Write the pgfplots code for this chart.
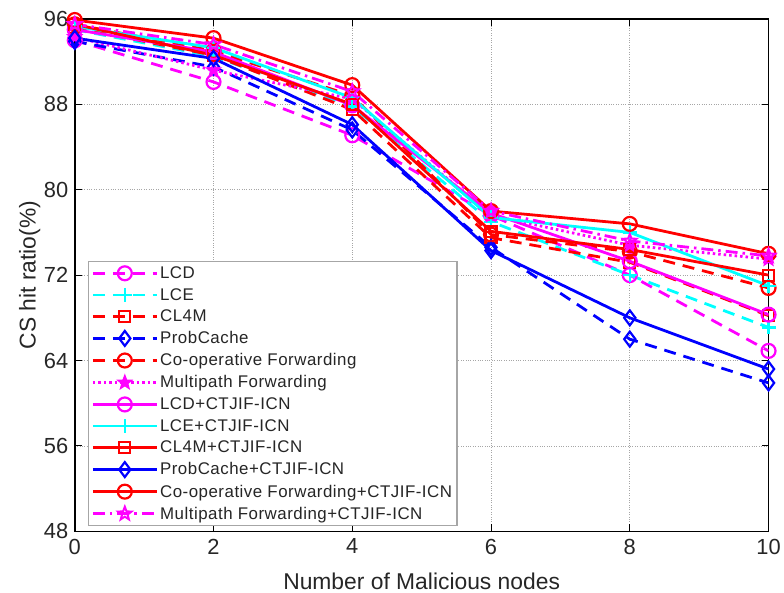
\documentclass[border=0pt]{standalone}
\usepackage{fontspec}
\setmainfont{Liberation Sans}
\newfontfamily\legfont[LetterSpace=3]{Liberation Sans}
\usepackage{pgfplots}
\pgfplotsset{compat=1.18}

\definecolor{mg}{rgb}{1,0,1}
\definecolor{cy}{rgb}{0,1,1}
\definecolor{rd}{rgb}{1,0,0}
\definecolor{bl}{rgb}{0,0,1}

% five-pointed star marks: open and filled
\pgfdeclareplotmark{pstar}{%
  \pgfpathmoveto{\pgfpointpolar{90}{\pgfplotmarksize}}%
  \pgfpathlineto{\pgfpointpolar{126}{0.42\pgfplotmarksize}}%
  \pgfpathlineto{\pgfpointpolar{162}{\pgfplotmarksize}}%
  \pgfpathlineto{\pgfpointpolar{198}{0.42\pgfplotmarksize}}%
  \pgfpathlineto{\pgfpointpolar{234}{\pgfplotmarksize}}%
  \pgfpathlineto{\pgfpointpolar{270}{0.42\pgfplotmarksize}}%
  \pgfpathlineto{\pgfpointpolar{306}{\pgfplotmarksize}}%
  \pgfpathlineto{\pgfpointpolar{342}{0.42\pgfplotmarksize}}%
  \pgfpathlineto{\pgfpointpolar{18}{\pgfplotmarksize}}%
  \pgfpathlineto{\pgfpointpolar{54}{0.42\pgfplotmarksize}}%
  \pgfpathclose\pgfusepathqstroke}
\pgfdeclareplotmark{pstar*}{%
  \pgfpathmoveto{\pgfpointpolar{90}{\pgfplotmarksize}}%
  \pgfpathlineto{\pgfpointpolar{126}{0.42\pgfplotmarksize}}%
  \pgfpathlineto{\pgfpointpolar{162}{\pgfplotmarksize}}%
  \pgfpathlineto{\pgfpointpolar{198}{0.42\pgfplotmarksize}}%
  \pgfpathlineto{\pgfpointpolar{234}{\pgfplotmarksize}}%
  \pgfpathlineto{\pgfpointpolar{270}{0.42\pgfplotmarksize}}%
  \pgfpathlineto{\pgfpointpolar{306}{\pgfplotmarksize}}%
  \pgfpathlineto{\pgfpointpolar{342}{0.42\pgfplotmarksize}}%
  \pgfpathlineto{\pgfpointpolar{18}{\pgfplotmarksize}}%
  \pgfpathlineto{\pgfpointpolar{54}{0.42\pgfplotmarksize}}%
  \pgfpathclose\pgfusepathqfillstroke}

\tikzset{
  dsh/.style={dash pattern=on 12bp off 8bp},
  dtt/.style={dash pattern=on 2.5bp off 3bp},
  dsd/.style={dash pattern=on 12bp off 5bp on 2.5bp off 5bp},
}

\begin{document}
\begin{tikzpicture}
\begin{axis}[
  scale only axis, width=696bp, height=514bp,
  xmin=0, xmax=10, ymin=48, ymax=96,
  xtick={0,2,...,10}, ytick={48,56,...,96},
  tick align=inside, major tick length=7bp,
  grid=major, grid style={dotted, gray!70, line width=0.8bp},
  axis line style={line width=1.5bp, black},
  tick style={black, line width=1bp},
  /pgf/number format/assume math mode=true,
  ticklabel style={font=\fontsize{22}{24}\selectfont, text=black!85},
  xticklabel style={yshift=-4bp},
  yticklabel style={xshift=-3bp},
  xlabel={Number of Malicious nodes},
  ylabel={CS hit ratio(\%)},
  label style={font=\fontsize{23}{27}\selectfont, text=black!85},
  xlabel style={at={(axis description cs:0.5,-0.097)}, anchor=center},
  ylabel style={at={(axis description cs:-0.065,0.5)}, anchor=center},
  every axis plot/.append style={line width=2.8bp},
  legend image code/.code={\draw[mark repeat=2,mark phase=2] plot coordinates {(0bp,0bp) (32bp,0bp) (64bp,0bp)};},
  legend style={at={(rel axis cs:0.019,0.01)}, anchor=south west,
    draw=gray!70, line width=1.2bp, fill=white,
    font=\legfont\fontsize{17}{19}\selectfont, text=black!85,
    cells={anchor=west}, row sep=4.4bp, inner sep=3bp},
]
% baseline schemes (broken lines)
\addplot[mg, dsh, mark=o, mark size=7bp, mark options={solid, line width=2.2bp}]
  coordinates {(0,94.0) (2,90.1) (4,85.1) (6,77.6) (8,72.0) (10,64.9)};
\addlegendentry{LCD}
\addplot[cy, dsh, mark=+, mark size=7bp, mark options={solid, line width=2.2bp}]
  coordinates {(0,95.0) (2,92.5) (4,87.8) (6,77.0) (8,72.0) (10,67.1)};
\addlegendentry{LCE}
\addplot[rd, dsh, mark=square, mark size=5.5bp, mark options={solid, line width=2.2bp}]
  coordinates {(0,95.2) (2,92.6) (4,87.5) (6,75.5) (8,73.2) (10,68.2)};
\addlegendentry{CL4M}
\addplot[bl, dsh, mark=diamond, mark size=7.5bp, mark options={solid, line width=2.2bp}]
  coordinates {(0,93.9) (2,91.5) (4,85.6) (6,74.6) (8,66.0) (10,61.9)};
\addlegendentry{ProbCache}
\addplot[rd, dsh, mark=o, mark size=7bp, mark options={solid, line width=2.2bp}]
  coordinates {(0,95.5) (2,93.0) (4,88.8) (6,75.8) (8,74.2) (10,70.8)};
\addlegendentry{Co-operative Forwarding}
\addplot[mg, dtt, mark=pstar*, mark size=7bp, mark options={solid, line width=1.5bp, fill=mg}]
  coordinates {(0,94.3) (2,91.2) (4,88.5) (6,77.6) (8,74.8) (10,73.5)};
\addlegendentry{Multipath Forwarding}
% schemes combined with CTJIF-ICN (solid / dash-dot)
\addplot[mg, solid, mark=o, mark size=7bp, mark options={solid, line width=2.2bp}]
  coordinates {(0,95.0) (2,92.9) (4,87.9) (6,77.8) (8,73.3) (10,68.3)};
\addlegendentry{LCD+CTJIF-ICN}
\addplot[cy, solid, mark=+, mark size=7bp, mark options={solid, line width=2.2bp}]
  coordinates {(0,95.3) (2,93.3) (4,88.6) (6,77.4) (8,76.0) (10,71.0)};
\addlegendentry{LCE+CTJIF-ICN}
\addplot[rd, solid, mark=square, mark size=5.5bp, mark options={solid, line width=2.2bp}]
  coordinates {(0,95.5) (2,92.6) (4,88.0) (6,76.1) (8,74.4) (10,72.0)};
\addlegendentry{CL4M+CTJIF-ICN}
\addplot[bl, solid, mark=diamond, mark size=7.5bp, mark options={solid, line width=2.2bp}]
  coordinates {(0,94.2) (2,92.3) (4,86.1) (6,74.3) (8,68.0) (10,63.2)};
\addlegendentry{ProbCache+CTJIF-ICN}
\addplot[rd, solid, mark=o, mark size=7bp, mark options={solid, line width=2.2bp}]
  coordinates {(0,95.9) (2,94.2) (4,89.8) (6,78.0) (8,76.8) (10,74.0)};
\addlegendentry{Co-operative Forwarding+CTJIF-ICN}
\addplot[mg, dsd, mark=pstar, mark size=7bp, mark options={solid, line width=2bp}]
  coordinates {(0,95.5) (2,93.6) (4,89.2) (6,78.0) (8,75.2) (10,73.8)};
\addlegendentry{Multipath Forwarding+CTJIF-ICN}
\end{axis}
% page extent around the axis
\path (current axis.south west) +(-75bp,-60bp) (current axis.north east) +(13bp,19bp);
\end{tikzpicture}
\end{document}
